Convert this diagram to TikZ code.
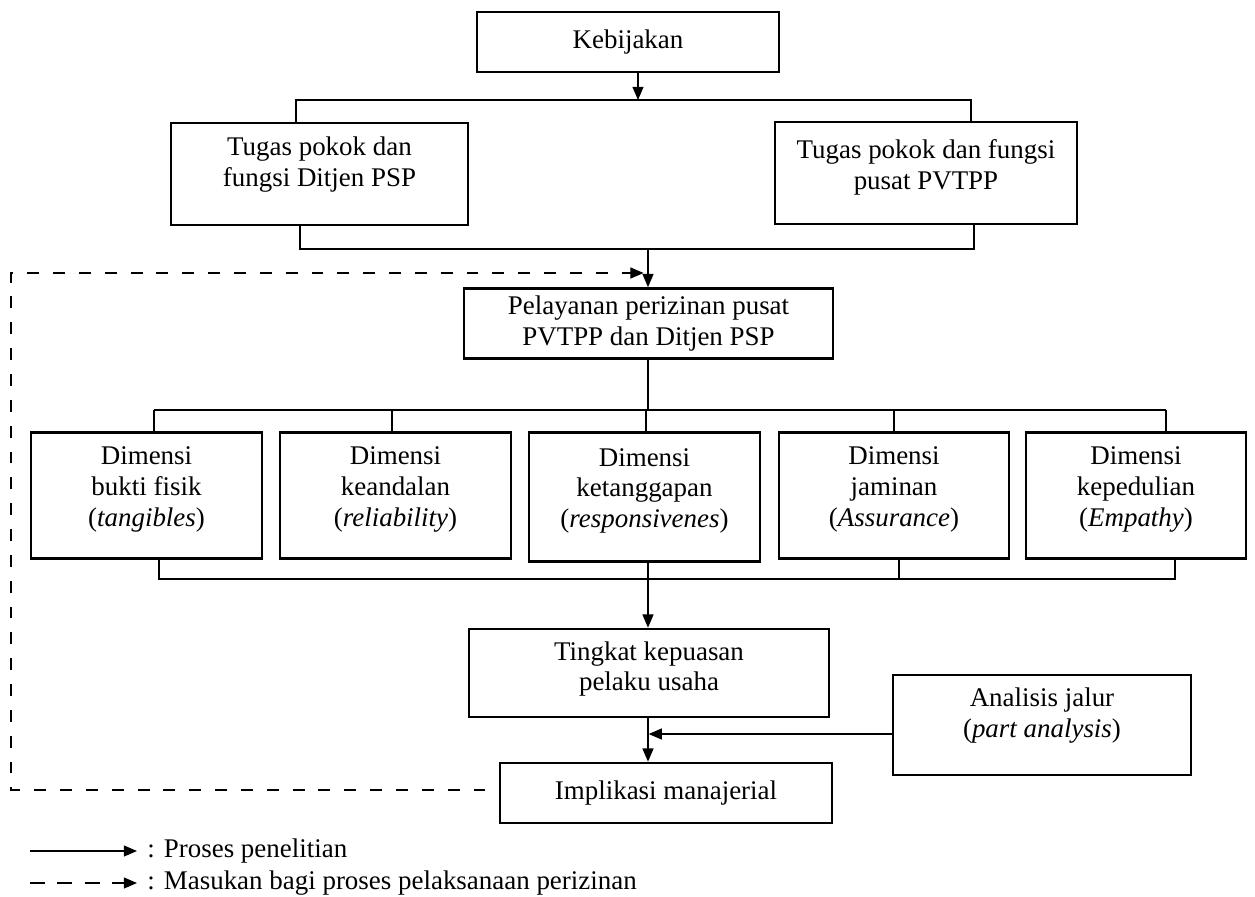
\documentclass[tikz,border=0pt]{standalone}
\usepackage{fontspec}
\setmainfont{Liberation Serif}
\usetikzlibrary{arrows.meta}

\begin{document}
\begin{tikzpicture}[x=0.4528pt,y=-0.4528pt]
    \tikzstyle{kotak}= [draw, line width=1.2pt, align=center, font=\fontsize{12.2}{14}\selectfont]
    \tikzstyle{ket}= [anchor=west, inner sep=0pt, font=\fontsize{12.2}{14}\selectfont]
    \tikzstyle{garis}= [line width=0.6pt]
    \tikzstyle{panah}= [line width=0.6pt, -{Triangle[length=6pt,width=5pt]}]
    \tikzstyle{putus}= [panah, dash pattern=on 5.4pt off 6.3pt]
  \def\px{0.4528pt}
  \useasboundingbox (0,0) rectangle (1255,896);

  % kotak-kotak utama
  \node[kotak, minimum width=302*\px, minimum height=60*\px] (keb) at (628,42) {Kebijakan};
  \node[kotak, minimum width=297*\px, minimum height=102*\px, text depth=11pt] (tugasA) at (319.5,174)
    {Tugas pokok dan\\fungsi Ditjen PSP};
  \node[kotak, minimum width=302*\px, minimum height=102*\px, text depth=8pt] (tugasB) at (926,173)
    {Tugas pokok dan fungsi\\pusat PVTPP};
  \node[kotak, minimum width=369*\px, minimum height=57*\px] (layan) at (648.5,323.5)
    {Pelayanan perizinan pusat\\PVTPP dan Ditjen PSP};

  \foreach \nama/\cx/\lebar/\tinggi/\isi/\asing in {dimA/146.5/231/126/bukti fisik/tangibles,
      dimB/395.5/231/126/keandalan/reliability, dimC/644.5/231/129/ketanggapan/responsivenes,
      dimD/894/230/126/jaminan/Assurance, dimE/1136/220/126/kepedulian/Empathy}
    \node[kotak, minimum width=\lebar*\px, minimum height=\tinggi*\px, text depth=8pt, anchor=north]
      (\nama) at (\cx,431) {Dimensi\\\isi\\(\textit{\asing})};

  \node[kotak, minimum width=360*\px, minimum height=88*\px, text depth=6.2pt] (tingkat) at (649,673)
    {Tingkat kepuasan\\pelaku usaha};
  \node[kotak, minimum width=332*\px, minimum height=60*\px] (impl) at (666,793) {Implikasi manajerial};
  \node[kotak, minimum width=298*\px, minimum height=100*\px, text depth=11pt] (analisis) at (1042,725)
    {Analisis jalur\\(\textit{part analysis})};

  % garis penghubung
  \coordinate (bagi1) at (638,100);
  \coordinate (kiri1) at (296,100);
  \coordinate (kanan1) at (971,100);
  \draw[panah] (keb.south -| bagi1) -- (bagi1);
  \draw[garis] (kiri1 |- tugasA.north) -- (kiri1) -- (kanan1) -- (kanan1 |- tugasB.north);

  \coordinate (kiri2) at (300,249);
  \coordinate (kanan2) at (974,249);
  \coordinate (tengah2) at (648,249);
  \draw[garis] (kiri2 |- tugasA.south) -- (kiri2) -- (kanan2) -- (kanan2 |- tugasB.south);
  \draw[panah] (tengah2) -- (layan.north -| tengah2);

  \coordinate (atas) at (648,410);
  \draw[garis] (layan.south -| atas) -- (atas);
  \foreach \nama/\tx [count=\i] in {dimA/154, dimB/392, dimC/646, dimD/894, dimE/1166} {
    \coordinate (t\i) at (\tx,410);
    \draw[garis] (t\i) -- (t\i |- \nama.north);
  }
  \draw[garis] (t1) -- (t5);

  \coordinate (b1) at (159,579);
  \coordinate (b4) at (899,579);
  \coordinate (b5) at (1175,579);
  \draw[garis] (b1 |- dimA.south) -- (b1) -- (b5) -- (b5 |- dimE.south);
  \draw[garis] (b4 |- dimD.south) -- (b4);
  \draw[panah] (dimC.south -| atas) -- (tingkat.north -| atas);

  \coordinate (temu) at (648,734);
  \draw[panah] (tingkat.south -| temu) -- (impl.north -| temu);
  \draw[panah, shorten >=0.3pt] (analisis.west |- temu) -- (temu);

  % umpan balik
  \coordinate (sudut1) at (11,273);
  \coordinate (sudut2) at (11,790);
  \draw[putus, shorten <=6pt, shorten >=2pt] (impl.west |- sudut2) -- (sudut2) -- (sudut1) -- (tengah2 |- sudut1);

  % keterangan
  \node[ket] (ket1) at (147,851) {: Proses penelitian};
  \node[ket] (ket2) at (147,883) {: Masukan bagi proses pelaksanaan perizinan};
  \coordinate (awal1) at (30,851);
  \coordinate (awal2) at (30,883);
  \draw[panah] (awal1) -- ([xshift=-10*\px]ket1.west);
  \draw[panah, dash pattern=on 6.8pt off 5.6pt] (awal2) -- ([xshift=-10*\px]ket2.west);

\end{tikzpicture}
\end{document}
